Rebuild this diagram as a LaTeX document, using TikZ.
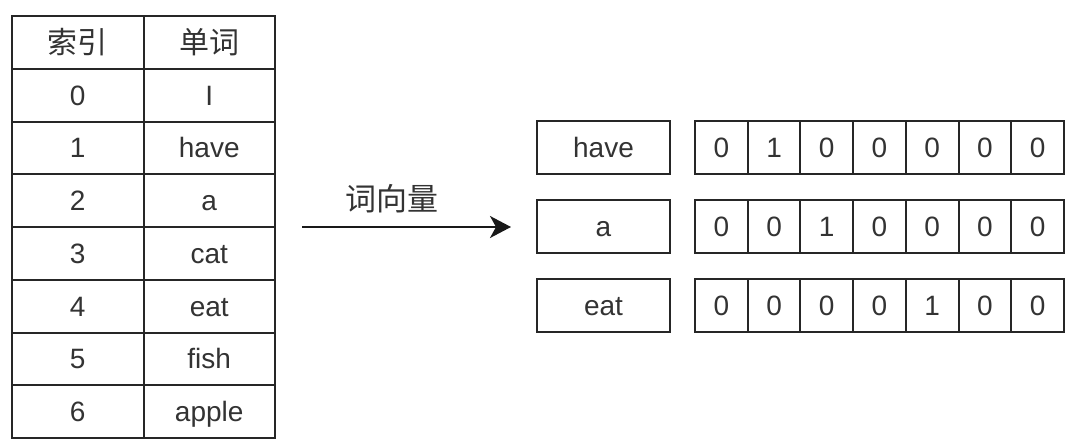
\documentclass[tikz,border=0pt]{standalone}
\usepackage{fontspec}
\setmainfont{Liberation Sans}
\newfontfamily\cjk{Noto Sans CJK SC}
\usetikzlibrary{arrows.meta}
\begin{document}
\begin{tikzpicture}[x=1pt,y=-1pt,
  base/.style={draw=black!85, line width=2pt, minimum height=52.75pt, inner sep=0pt,
    font=\fontsize{28}{28}\selectfont, text=black!80, anchor=center},
  lat/.style={text height=20pt, text depth=0pt},
  tcell/.style={base, minimum width=131.5pt},
  wbox/.style={base, lat, minimum width=133pt, minimum height=53pt},
  vcell/.style={base, lat, minimum width=52.7pt, minimum height=53pt},
  hdr/.style={font=\cjk\fontsize{30}{30}\selectfont},
  conn/.style={line width=2pt, draw=black!90, -{Stealth[length=21pt,width=22pt,inset=6pt]}}
]
\useasboundingbox[fill=white] (0,0) rectangle (1080,446);
% table
\node[tcell, hdr] (h0) at (77.75,42.4) {索引};
\node[tcell, hdr] (h1) at (209.25,42.4) {单词};
\foreach \i/\w in {0/I,1/have,2/a,3/cat,4/eat,5/fish,6/apple}{
  \node[tcell, lat] (i\i) at (77.75,{42.4+52.75*(\i+1)}) {\i};
  \node[tcell, lat] (w\i) at (209.25,{42.4+52.75*(\i+1)}) {\w};
}
% arrow
\coordinate (s) at (302,227);
\coordinate (t) at (511,227);
\draw[conn] (s) -- (t);
\node[font=\cjk\fontsize{31}{31}\selectfont, text=black!80] (lbl) at (392,199) {词向量};
% word boxes
\node[wbox] (b1) at (603.5,147.5) {have};
\node[wbox] (b2) at (603.5,226.5) {a};
\node[wbox] (b3) at (603.5,305.5) {eat};
% vectors
\foreach \r/\y/\vals in {1/147.5/{0,1,0,0,0,0,0},2/226.5/{0,0,1,0,0,0,0},3/305.5/{0,0,0,0,1,0,0}}{
  \foreach \v [count=\k from 0] in \vals {
    \node[vcell] (v\r-\k) at ({721.35+52.7*\k},\y) {\v};
  }
}
\end{tikzpicture}
\end{document}
